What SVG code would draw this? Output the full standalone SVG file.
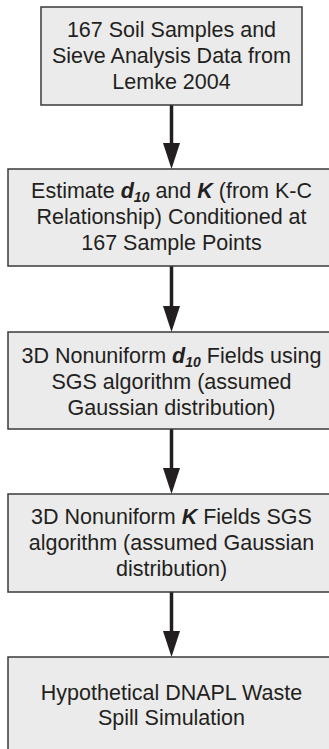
<svg xmlns="http://www.w3.org/2000/svg" width="329" height="749" viewBox="0 0 329 749">
<style>
.box{fill:#ebebeb;stroke:#3a3a3a;stroke-width:1.5}
text{font-family:"Liberation Sans",Arial,sans-serif;font-size:21.5px;fill:#231f20;text-anchor:middle}
.bi{font-weight:bold;font-style:italic}
.sub{font-weight:bold;font-style:italic;font-size:14px}
.conn{stroke:#231f20;stroke-width:3.5;fill:none}
</style>
<defs>
<marker id="ah" markerUnits="userSpaceOnUse" markerWidth="26" markerHeight="17" refX="0" refY="8.5" orient="auto" overflow="visible">
<path d="M0,0 L26,8.5 L0,17 z" fill="#231f20"/>
</marker>
</defs>
<g id="connectors">
<line class="conn" x1="171.5" y1="105" x2="171.5" y2="143" marker-end="url(#ah)"/>
<line class="conn" x1="171.5" y1="266" x2="171.5" y2="306" marker-end="url(#ah)"/>
<line class="conn" x1="171.5" y1="429" x2="171.5" y2="468" marker-end="url(#ah)"/>
<line class="conn" x1="171.5" y1="592" x2="171.5" y2="631" marker-end="url(#ah)"/>
</g>
<g id="n1">
<rect class="box" x="41" y="7" width="261" height="98"/>
<text x="171.5" y="37">167 Soil Samples and</text>
<text x="171.5" y="63">Sieve Analysis Data from</text>
<text x="171.5" y="89">Lemke 2004</text>
</g>
<g id="n2">
<rect class="box" x="8" y="169" width="330" height="97"/>
<text x="171.5" y="198">Estimate <tspan class="bi">d</tspan><tspan class="sub" dy="4">10</tspan><tspan dy="-4"> and </tspan><tspan class="bi">K</tspan> (from K-C</text>
<text x="171.5" y="224">Relationship) Conditioned at</text>
<text x="171.5" y="250">167 Sample Points</text>
</g>
<g id="n3">
<rect class="box" x="8" y="332" width="330" height="97"/>
<text x="171.5" y="363">3D Nonuniform <tspan class="bi">d</tspan><tspan class="sub" dy="4">10</tspan><tspan dy="-4"> Fields using</tspan></text>
<text x="171.5" y="389">SGS algorithm (assumed</text>
<text x="171.5" y="415">Gaussian distribution)</text>
</g>
<g id="n4">
<rect class="box" x="8" y="494" width="330" height="98"/>
<text x="171.5" y="524">3D Nonuniform <tspan class="bi">K</tspan> Fields SGS</text>
<text x="171.5" y="550">algorithm (assumed Gaussian</text>
<text x="171.5" y="576">distribution)</text>
</g>
<g id="n5">
<rect class="box" x="8" y="657" width="330" height="100"/>
<text x="171.5" y="700">Hypothetical DNAPL Waste</text>
<text x="171.5" y="725">Spill Simulation</text>
</g>
</svg>
